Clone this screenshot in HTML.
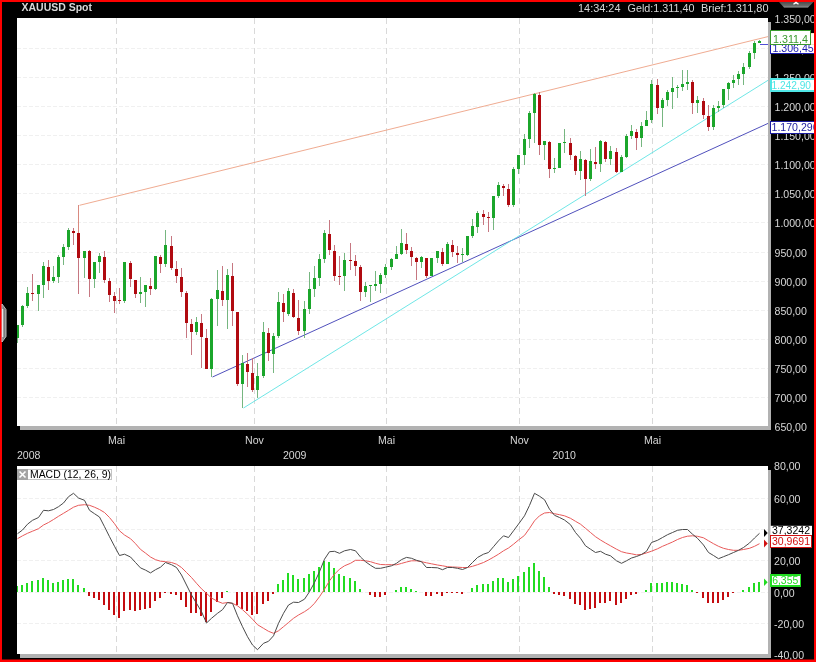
<!DOCTYPE html>
<html><head><meta charset="utf-8"><title>XAUUSD Spot</title>
<style>
html,body{margin:0;padding:0;background:#000;}
body{width:816px;height:662px;overflow:hidden;}
svg{display:block;}
text{font-family:"Liberation Sans",Arial,sans-serif;font-size:10.6px;}
.ax{fill:#d6d6d6;}
.b{font-weight:bold;}
</style></head><body>
<svg width="816" height="662" viewBox="0 0 816 662">
<rect x="0" y="0" width="816" height="662" fill="#fe0000"/>
<rect x="2" y="2" width="812" height="657.5" fill="#000"/>
<g shape-rendering="crispEdges">
<rect x="20" y="22" width="751" height="408" fill="#b2b2b2"/>
<rect x="17" y="18" width="751" height="408" fill="#fff"/>
<rect x="20" y="470" width="751" height="188" fill="#b2b2b2"/>
<rect x="17" y="466" width="751" height="188" fill="#fff"/>
</g>
<g stroke="#f0f0f0" stroke-width="1" stroke-dasharray="4 2" shape-rendering="crispEdges">
<line x1="17" y1="397.5" x2="768" y2="397.5"/>
<line x1="17" y1="368.5" x2="768" y2="368.5"/>
<line x1="17" y1="339.5" x2="768" y2="339.5"/>
<line x1="17" y1="310.5" x2="768" y2="310.5"/>
<line x1="17" y1="281.5" x2="768" y2="281.5"/>
<line x1="17" y1="252.5" x2="768" y2="252.5"/>
<line x1="17" y1="222.5" x2="768" y2="222.5"/>
<line x1="17" y1="193.5" x2="768" y2="193.5"/>
<line x1="17" y1="164.5" x2="768" y2="164.5"/>
<line x1="17" y1="135.5" x2="768" y2="135.5"/>
<line x1="17" y1="106.5" x2="768" y2="106.5"/>
<line x1="17" y1="77.5" x2="768" y2="77.5"/>
<line x1="17" y1="48.5" x2="768" y2="48.5"/>
<line x1="17" y1="498.5" x2="768" y2="498.5"/>
<line x1="17" y1="529.5" x2="768" y2="529.5"/>
<line x1="17" y1="560.5" x2="768" y2="560.5"/>
<line x1="17" y1="592.5" x2="768" y2="592.5"/>
<line x1="17" y1="623.5" x2="768" y2="623.5"/>
</g>
<g stroke="#d9d9d9" stroke-width="1" stroke-dasharray="6 4" shape-rendering="crispEdges">
<line x1="116.5" y1="18" x2="116.5" y2="426"/>
<line x1="116.5" y1="466" x2="116.5" y2="654"/>
<line x1="254.5" y1="18" x2="254.5" y2="426"/>
<line x1="254.5" y1="466" x2="254.5" y2="654"/>
<line x1="386.5" y1="18" x2="386.5" y2="426"/>
<line x1="386.5" y1="466" x2="386.5" y2="654"/>
<line x1="519.5" y1="18" x2="519.5" y2="426"/>
<line x1="519.5" y1="466" x2="519.5" y2="654"/>
<line x1="652.5" y1="18" x2="652.5" y2="426"/>
<line x1="652.5" y1="466" x2="652.5" y2="654"/>
</g>
<g fill="none" stroke-width="0.9">
<line x1="79.5" y1="205.3" x2="768" y2="36.6" stroke="#eda284"/>
<line x1="212.5" y1="377" x2="768" y2="123.4" stroke="#3c3cb4"/>
<line x1="243.5" y1="408" x2="768" y2="80.3" stroke="#5fe3e3"/>
<line x1="760" y1="44.5" x2="768" y2="44.5" stroke="#3c3cd0"/>
</g>
<g shape-rendering="crispEdges">
<rect x="17" y="325.0" width="1" height="18.0" fill="#76b680"/><rect x="22" y="304.5" width="1" height="22.5" fill="#76b680"/><rect x="27" y="286.7" width="1" height="21.6" fill="#76b680"/><rect x="32" y="274.0" width="1" height="27.0" fill="#c67781"/><rect x="38" y="284.7" width="1" height="26.3" fill="#76b680"/><rect x="43" y="261.7" width="1" height="35.8" fill="#76b680"/><rect x="48" y="260.3" width="1" height="29.2" fill="#c67781"/><rect x="53" y="266.0" width="1" height="17.3" fill="#76b680"/><rect x="58" y="255.0" width="1" height="27.5" fill="#76b680"/><rect x="63" y="244.0" width="1" height="21.3" fill="#76b680"/><rect x="68" y="228.3" width="1" height="21.7" fill="#76b680"/><rect x="73" y="228.3" width="1" height="16.4" fill="#c67781"/><rect x="78" y="205.3" width="1" height="27.7" fill="#d98a80"/><rect x="78" y="257.8" width="1" height="35.9" fill="#c67781"/><rect x="84" y="250.8" width="1" height="27.5" fill="#76b680"/><rect x="89" y="250.0" width="1" height="46.7" fill="#c67781"/><rect x="94" y="262.0" width="1" height="26.3" fill="#76b680"/><rect x="99" y="253.3" width="1" height="20.0" fill="#76b680"/><rect x="104" y="251.3" width="1" height="31.2" fill="#c67781"/><rect x="109" y="278.3" width="1" height="23.7" fill="#c67781"/><rect x="114" y="291.7" width="1" height="21.3" fill="#c67781"/><rect x="119" y="288.3" width="1" height="15.4" fill="#c67781"/><rect x="124" y="261.7" width="1" height="41.6" fill="#76b680"/><rect x="130" y="260.8" width="1" height="25.9" fill="#c67781"/><rect x="135" y="280.0" width="1" height="17.5" fill="#c67781"/><rect x="140" y="277.0" width="1" height="25.5" fill="#76b680"/><rect x="145" y="284.7" width="1" height="22.0" fill="#76b680"/><rect x="150" y="277.5" width="1" height="17.8" fill="#c67781"/><rect x="155" y="255.8" width="1" height="34.5" fill="#76b680"/><rect x="160" y="255.0" width="1" height="18.3" fill="#c67781"/><rect x="165" y="230.0" width="1" height="36.7" fill="#76b680"/><rect x="171" y="235.8" width="1" height="34.5" fill="#c67781"/><rect x="176" y="261.3" width="1" height="22.0" fill="#c67781"/><rect x="181" y="267.5" width="1" height="29.2" fill="#c67781"/><rect x="186" y="290.8" width="1" height="46.7" fill="#c67781"/><rect x="191" y="319.2" width="1" height="35.3" fill="#c67781"/><rect x="196" y="317.0" width="1" height="18.3" fill="#76b680"/><rect x="201" y="314.2" width="1" height="53.8" fill="#c67781"/><rect x="206" y="329.2" width="1" height="39.5" fill="#c67781"/><rect x="211" y="298.3" width="1" height="78.7" fill="#76b680"/><rect x="217" y="270.0" width="1" height="55.5" fill="#76b680"/><rect x="222" y="265.8" width="1" height="40.0" fill="#c67781"/><rect x="227" y="269.2" width="1" height="59.6" fill="#76b680"/><rect x="232" y="263.3" width="1" height="62.2" fill="#c67781"/><rect x="237" y="311.7" width="1" height="73.8" fill="#c67781"/><rect x="242" y="355.0" width="1" height="53.0" fill="#76b680"/><rect x="247" y="353.3" width="1" height="33.4" fill="#c67781"/><rect x="252" y="358.3" width="1" height="33.4" fill="#c67781"/><rect x="257" y="362.5" width="1" height="35.0" fill="#76b680"/><rect x="263" y="322.3" width="1" height="55.2" fill="#76b680"/><rect x="268" y="328.3" width="1" height="32.5" fill="#c67781"/><rect x="273" y="332.5" width="1" height="40.8" fill="#76b680"/><rect x="278" y="291.7" width="1" height="46.6" fill="#76b680"/><rect x="283" y="294.2" width="1" height="27.5" fill="#c67781"/><rect x="288" y="287.5" width="1" height="28.8" fill="#76b680"/><rect x="293" y="289.2" width="1" height="28.7" fill="#c67781"/><rect x="298" y="300.0" width="1" height="34.5" fill="#c67781"/><rect x="304" y="301.3" width="1" height="37.0" fill="#76b680"/><rect x="309" y="272.2" width="1" height="42.0" fill="#76b680"/><rect x="314" y="265.8" width="1" height="30.9" fill="#76b680"/><rect x="319" y="254.2" width="1" height="32.1" fill="#76b680"/><rect x="324" y="230.3" width="1" height="32.2" fill="#76b680"/><rect x="329" y="220.0" width="1" height="34.7" fill="#c67781"/><rect x="334" y="245.0" width="1" height="35.8" fill="#c67781"/><rect x="339" y="255.8" width="1" height="28.9" fill="#c67781"/><rect x="344" y="253.0" width="1" height="37.8" fill="#76b680"/><rect x="350" y="242.5" width="1" height="27.8" fill="#c67781"/><rect x="355" y="255.0" width="1" height="20.8" fill="#c67781"/><rect x="360" y="265.0" width="1" height="35.8" fill="#c67781"/><rect x="365" y="282.2" width="1" height="14.8" fill="#76b680"/><rect x="370" y="284.7" width="1" height="17.0" fill="#76b680"/><rect x="375" y="271.3" width="1" height="19.5" fill="#76b680"/><rect x="380" y="273.3" width="1" height="19.2" fill="#76b680"/><rect x="385" y="264.2" width="1" height="14.1" fill="#76b680"/><rect x="391" y="258.3" width="1" height="11.4" fill="#76b680"/><rect x="396" y="245.8" width="1" height="13.4" fill="#76b680"/><rect x="401" y="229.2" width="1" height="26.2" fill="#76b680"/><rect x="406" y="233.3" width="1" height="20.9" fill="#c67781"/><rect x="411" y="246.7" width="1" height="18.8" fill="#c67781"/><rect x="416" y="257.0" width="1" height="22.7" fill="#c67781"/><rect x="421" y="256.3" width="1" height="11.2" fill="#76b680"/><rect x="426" y="257.8" width="1" height="19.7" fill="#c67781"/><rect x="431" y="257.8" width="1" height="18.5" fill="#76b680"/><rect x="437" y="250.8" width="1" height="11.7" fill="#76b680"/><rect x="442" y="247.5" width="1" height="18.0" fill="#c67781"/><rect x="447" y="241.7" width="1" height="22.5" fill="#76b680"/><rect x="452" y="240.3" width="1" height="16.4" fill="#c67781"/><rect x="457" y="246.3" width="1" height="16.2" fill="#c67781"/><rect x="462" y="248.0" width="1" height="14.0" fill="#76b680"/><rect x="467" y="235.8" width="1" height="20.5" fill="#76b680"/><rect x="472" y="219.2" width="1" height="19.1" fill="#76b680"/><rect x="477" y="211.3" width="1" height="22.0" fill="#76b680"/><rect x="483" y="210.0" width="1" height="15.0" fill="#c67781"/><rect x="488" y="211.7" width="1" height="20.0" fill="#c67781"/><rect x="493" y="195.8" width="1" height="34.5" fill="#76b680"/><rect x="498" y="181.7" width="1" height="16.6" fill="#76b680"/><rect x="503" y="184.2" width="1" height="12.1" fill="#c67781"/><rect x="508" y="184.2" width="1" height="22.5" fill="#c67781"/><rect x="513" y="166.7" width="1" height="40.0" fill="#76b680"/><rect x="518" y="154.7" width="1" height="19.5" fill="#76b680"/><rect x="524" y="134.2" width="1" height="30.8" fill="#76b680"/><rect x="529" y="110.8" width="1" height="36.7" fill="#76b680"/><rect x="534" y="93.3" width="1" height="50.0" fill="#76b680"/><rect x="539" y="92.0" width="1" height="62.7" fill="#c67781"/><rect x="544" y="140.8" width="1" height="18.9" fill="#76b680"/><rect x="549" y="141.3" width="1" height="37.0" fill="#c67781"/><rect x="554" y="157.5" width="1" height="15.0" fill="#76b680"/><rect x="559" y="142.8" width="1" height="25.0" fill="#76b680"/><rect x="564" y="129.2" width="1" height="24.1" fill="#76b680"/><rect x="570" y="138.0" width="1" height="21.5" fill="#c67781"/><rect x="575" y="155.3" width="1" height="19.2" fill="#c67781"/><rect x="580" y="150.5" width="1" height="29.0" fill="#76b680"/><rect x="585" y="159.2" width="1" height="37.1" fill="#c67781"/><rect x="590" y="149.2" width="1" height="31.4" fill="#76b680"/><rect x="595" y="146.8" width="1" height="22.4" fill="#c67781"/><rect x="600" y="139.5" width="1" height="32.2" fill="#76b680"/><rect x="605" y="141.3" width="1" height="20.4" fill="#c67781"/><rect x="610" y="146.3" width="1" height="18.7" fill="#76b680"/><rect x="616" y="148.3" width="1" height="24.2" fill="#c67781"/><rect x="621" y="155.0" width="1" height="17.0" fill="#76b680"/><rect x="626" y="134.2" width="1" height="23.3" fill="#76b680"/><rect x="631" y="125.0" width="1" height="14.2" fill="#76b680"/><rect x="636" y="129.2" width="1" height="20.5" fill="#c67781"/><rect x="641" y="122.3" width="1" height="24.4" fill="#76b680"/><rect x="646" y="111.3" width="1" height="15.0" fill="#76b680"/><rect x="651" y="79.5" width="1" height="43.2" fill="#76b680"/><rect x="657" y="78.7" width="1" height="35.0" fill="#c67781"/><rect x="662" y="97.8" width="1" height="28.9" fill="#76b680"/><rect x="667" y="90.3" width="1" height="15.2" fill="#76b680"/><rect x="672" y="77.0" width="1" height="31.5" fill="#76b680"/><rect x="677" y="85.3" width="1" height="12.5" fill="#76b680"/><rect x="682" y="69.5" width="1" height="21.7" fill="#76b680"/><rect x="687" y="70.3" width="1" height="20.0" fill="#76b680"/><rect x="692" y="80.3" width="1" height="34.0" fill="#c67781"/><rect x="697" y="96.2" width="1" height="17.1" fill="#76b680"/><rect x="703" y="97.8" width="1" height="21.5" fill="#c67781"/><rect x="708" y="105.2" width="1" height="25.3" fill="#c67781"/><rect x="713" y="105.2" width="1" height="25.0" fill="#76b680"/><rect x="718" y="101.2" width="1" height="10.8" fill="#76b680"/><rect x="723" y="88.7" width="1" height="19.1" fill="#76b680"/><rect x="728" y="82.3" width="1" height="18.0" fill="#76b680"/><rect x="733" y="75.0" width="1" height="12.8" fill="#76b680"/><rect x="738" y="70.7" width="1" height="13.8" fill="#76b680"/><rect x="743" y="63.3" width="1" height="22.0" fill="#76b680"/><rect x="749" y="51.2" width="1" height="17.5" fill="#76b680"/><rect x="754" y="41.2" width="1" height="17.5" fill="#76b680"/><rect x="759" y="39.5" width="1" height="3.3" fill="#76b680"/>
<rect x="17" y="325.0" width="2" height="13.0" fill="#1ba62b"/><rect x="21" y="306.0" width="3" height="19.0" fill="#1ba62b"/><rect x="26" y="293.0" width="3" height="12.8" fill="#1ba62b"/><rect x="31" y="293.0" width="3" height="1.2" fill="#b00a10"/><rect x="37" y="285.0" width="3" height="8.7" fill="#1ba62b"/><rect x="42" y="266.0" width="3" height="18.7" fill="#1ba62b"/><rect x="47" y="267.0" width="3" height="13.8" fill="#b00a10"/><rect x="52" y="277.0" width="3" height="3.8" fill="#1ba62b"/><rect x="57" y="257.0" width="3" height="19.7" fill="#1ba62b"/><rect x="62" y="247.0" width="3" height="9.7" fill="#1ba62b"/><rect x="67" y="230.0" width="3" height="16.7" fill="#1ba62b"/><rect x="72" y="231.0" width="3" height="1.5" fill="#b00a10"/><rect x="77" y="233.0" width="3" height="24.8" fill="#b00a10"/><rect x="83" y="251.0" width="3" height="6.8" fill="#1ba62b"/><rect x="88" y="251.0" width="3" height="27.7" fill="#b00a10"/><rect x="93" y="262.0" width="3" height="16.7" fill="#1ba62b"/><rect x="98" y="256.0" width="3" height="5.7" fill="#1ba62b"/><rect x="103" y="257.0" width="3" height="22.7" fill="#b00a10"/><rect x="108" y="280.8" width="3" height="14.2" fill="#b00a10"/><rect x="113" y="296.0" width="3" height="4.8" fill="#b00a10"/><rect x="118" y="300.0" width="3" height="1.2" fill="#b00a10"/><rect x="123" y="262.0" width="3" height="38.8" fill="#1ba62b"/><rect x="129" y="262.8" width="3" height="15.9" fill="#b00a10"/><rect x="134" y="280.0" width="3" height="13.8" fill="#b00a10"/><rect x="139" y="291.7" width="3" height="2.1" fill="#1ba62b"/><rect x="144" y="285.0" width="3" height="6.7" fill="#1ba62b"/><rect x="149" y="286.2" width="3" height="2.5" fill="#b00a10"/><rect x="154" y="256.2" width="3" height="32.5" fill="#1ba62b"/><rect x="159" y="257.0" width="3" height="6.7" fill="#b00a10"/><rect x="164" y="245.0" width="3" height="18.7" fill="#1ba62b"/><rect x="170" y="245.8" width="3" height="22.0" fill="#b00a10"/><rect x="175" y="268.8" width="3" height="7.0" fill="#b00a10"/><rect x="180" y="277.0" width="3" height="14.7" fill="#b00a10"/><rect x="185" y="292.8" width="3" height="29.8" fill="#b00a10"/><rect x="190" y="323.8" width="3" height="7.9" fill="#b00a10"/><rect x="195" y="321.8" width="3" height="9.9" fill="#1ba62b"/><rect x="200" y="322.8" width="3" height="13.9" fill="#b00a10"/><rect x="205" y="337.8" width="3" height="30.9" fill="#b00a10"/><rect x="210" y="298.8" width="3" height="69.9" fill="#1ba62b"/><rect x="216" y="290.0" width="3" height="8.8" fill="#1ba62b"/><rect x="221" y="290.8" width="3" height="8.9" fill="#b00a10"/><rect x="226" y="274.7" width="3" height="25.0" fill="#1ba62b"/><rect x="231" y="275.8" width="3" height="35.0" fill="#b00a10"/><rect x="236" y="312.0" width="3" height="71.7" fill="#b00a10"/><rect x="241" y="362.8" width="3" height="20.9" fill="#1ba62b"/><rect x="246" y="364.2" width="3" height="7.5" fill="#b00a10"/><rect x="251" y="372.8" width="3" height="17.2" fill="#b00a10"/><rect x="256" y="376.2" width="3" height="13.8" fill="#1ba62b"/><rect x="262" y="332.0" width="3" height="43.8" fill="#1ba62b"/><rect x="267" y="333.0" width="3" height="19.8" fill="#b00a10"/><rect x="272" y="335.8" width="3" height="17.9" fill="#1ba62b"/><rect x="277" y="302.0" width="3" height="33.8" fill="#1ba62b"/><rect x="282" y="303.0" width="3" height="8.7" fill="#b00a10"/><rect x="287" y="291.2" width="3" height="22.5" fill="#1ba62b"/><rect x="292" y="292.8" width="3" height="23.9" fill="#b00a10"/><rect x="297" y="318.0" width="3" height="12.8" fill="#b00a10"/><rect x="303" y="309.2" width="3" height="21.6" fill="#1ba62b"/><rect x="308" y="289.2" width="3" height="19.6" fill="#1ba62b"/><rect x="313" y="278.0" width="3" height="10.8" fill="#1ba62b"/><rect x="318" y="259.2" width="3" height="18.6" fill="#1ba62b"/><rect x="323" y="232.8" width="3" height="26.0" fill="#1ba62b"/><rect x="328" y="234.2" width="3" height="15.8" fill="#b00a10"/><rect x="333" y="251.2" width="3" height="24.6" fill="#b00a10"/><rect x="338" y="275.8" width="3" height="1.2" fill="#b00a10"/><rect x="343" y="260.0" width="3" height="15.8" fill="#1ba62b"/><rect x="349" y="259.7" width="3" height="1.2" fill="#b00a10"/><rect x="354" y="260.8" width="3" height="5.0" fill="#b00a10"/><rect x="359" y="267.0" width="3" height="25.0" fill="#b00a10"/><rect x="364" y="286.2" width="3" height="5.8" fill="#1ba62b"/><rect x="369" y="285.0" width="3" height="1.2" fill="#1ba62b"/><rect x="374" y="283.8" width="3" height="2.0" fill="#1ba62b"/><rect x="379" y="275.0" width="3" height="8.8" fill="#1ba62b"/><rect x="384" y="267.0" width="3" height="7.7" fill="#1ba62b"/><rect x="390" y="259.2" width="3" height="7.8" fill="#1ba62b"/><rect x="395" y="253.8" width="3" height="4.8" fill="#1ba62b"/><rect x="400" y="243.0" width="3" height="10.7" fill="#1ba62b"/><rect x="405" y="244.2" width="3" height="5.6" fill="#b00a10"/><rect x="410" y="251.2" width="3" height="5.5" fill="#b00a10"/><rect x="415" y="258.0" width="3" height="3.7" fill="#b00a10"/><rect x="420" y="257.0" width="3" height="4.7" fill="#1ba62b"/><rect x="425" y="258.0" width="3" height="17.8" fill="#b00a10"/><rect x="430" y="258.0" width="3" height="17.8" fill="#1ba62b"/><rect x="436" y="251.3" width="3" height="6.5" fill="#1ba62b"/><rect x="441" y="252.0" width="3" height="11.7" fill="#b00a10"/><rect x="446" y="244.2" width="3" height="19.5" fill="#1ba62b"/><rect x="451" y="245.0" width="3" height="6.7" fill="#b00a10"/><rect x="456" y="253.0" width="3" height="1.7" fill="#b00a10"/><rect x="461" y="253.8" width="3" height="1.2" fill="#1ba62b"/><rect x="466" y="236.2" width="3" height="18.5" fill="#1ba62b"/><rect x="471" y="226.2" width="3" height="9.6" fill="#1ba62b"/><rect x="476" y="213.0" width="3" height="13.7" fill="#1ba62b"/><rect x="482" y="214.2" width="3" height="2.5" fill="#b00a10"/><rect x="487" y="216.7" width="3" height="1.2" fill="#b00a10"/><rect x="492" y="196.2" width="3" height="21.3" fill="#1ba62b"/><rect x="497" y="185.0" width="3" height="10.8" fill="#1ba62b"/><rect x="502" y="185.8" width="3" height="2.0" fill="#b00a10"/><rect x="507" y="189.2" width="3" height="15.5" fill="#b00a10"/><rect x="512" y="168.8" width="3" height="35.9" fill="#1ba62b"/><rect x="517" y="155.0" width="3" height="13.8" fill="#1ba62b"/><rect x="523" y="138.8" width="3" height="15.9" fill="#1ba62b"/><rect x="528" y="112.8" width="3" height="25.9" fill="#1ba62b"/><rect x="533" y="93.8" width="3" height="18.7" fill="#1ba62b"/><rect x="538" y="95.0" width="3" height="49.5" fill="#b00a10"/><rect x="543" y="141.2" width="3" height="3.5" fill="#1ba62b"/><rect x="548" y="142.0" width="3" height="26.7" fill="#b00a10"/><rect x="553" y="167.8" width="3" height="1.2" fill="#1ba62b"/><rect x="558" y="143.0" width="3" height="24.8" fill="#1ba62b"/><rect x="563" y="142.0" width="3" height="1.2" fill="#1ba62b"/><rect x="569" y="143.0" width="3" height="11.7" fill="#b00a10"/><rect x="574" y="155.8" width="3" height="15.0" fill="#b00a10"/><rect x="579" y="159.2" width="3" height="11.6" fill="#1ba62b"/><rect x="584" y="160.0" width="3" height="18.8" fill="#b00a10"/><rect x="589" y="161.2" width="3" height="17.6" fill="#1ba62b"/><rect x="594" y="162.0" width="3" height="1.8" fill="#b00a10"/><rect x="599" y="141.2" width="3" height="22.6" fill="#1ba62b"/><rect x="604" y="142.0" width="3" height="16.7" fill="#b00a10"/><rect x="609" y="150.8" width="3" height="7.9" fill="#1ba62b"/><rect x="615" y="152.0" width="3" height="20.0" fill="#b00a10"/><rect x="620" y="157.0" width="3" height="15.0" fill="#1ba62b"/><rect x="625" y="135.8" width="3" height="21.2" fill="#1ba62b"/><rect x="630" y="130.8" width="3" height="5.0" fill="#1ba62b"/><rect x="635" y="132.0" width="3" height="5.8" fill="#b00a10"/><rect x="640" y="125.8" width="3" height="12.0" fill="#1ba62b"/><rect x="645" y="120.2" width="3" height="5.6" fill="#1ba62b"/><rect x="650" y="84.0" width="3" height="36.0" fill="#1ba62b"/><rect x="656" y="85.0" width="3" height="22.8" fill="#b00a10"/><rect x="661" y="100.0" width="3" height="7.8" fill="#1ba62b"/><rect x="666" y="92.0" width="3" height="8.0" fill="#1ba62b"/><rect x="671" y="88.2" width="3" height="3.8" fill="#1ba62b"/><rect x="676" y="87.0" width="3" height="1.2" fill="#1ba62b"/><rect x="681" y="84.0" width="3" height="3.0" fill="#1ba62b"/><rect x="686" y="82.0" width="3" height="2.0" fill="#1ba62b"/><rect x="691" y="82.0" width="3" height="20.7" fill="#b00a10"/><rect x="696" y="100.0" width="3" height="2.7" fill="#1ba62b"/><rect x="702" y="101.0" width="3" height="13.9" fill="#b00a10"/><rect x="707" y="116.2" width="3" height="10.7" fill="#b00a10"/><rect x="712" y="108.0" width="3" height="18.9" fill="#1ba62b"/><rect x="717" y="106.2" width="3" height="1.6" fill="#1ba62b"/><rect x="722" y="89.0" width="3" height="15.8" fill="#1ba62b"/><rect x="727" y="83.2" width="3" height="5.8" fill="#1ba62b"/><rect x="732" y="80.0" width="3" height="3.2" fill="#1ba62b"/><rect x="737" y="74.0" width="3" height="5.0" fill="#1ba62b"/><rect x="742" y="67.0" width="3" height="6.7" fill="#1ba62b"/><rect x="748" y="53.2" width="3" height="13.8" fill="#1ba62b"/><rect x="753" y="43.2" width="3" height="9.6" fill="#1ba62b"/><rect x="758" y="41.2" width="3" height="1.3" fill="#1ba62b"/>
</g>
<g shape-rendering="crispEdges">
<rect x="17" y="586.2" width="1" height="5.8" fill="#22dc22"/>
<rect x="21" y="584.5" width="2" height="7.5" fill="#22dc22"/>
<rect x="26" y="582.5" width="2" height="9.5" fill="#22dc22"/>
<rect x="31" y="581.2" width="2" height="10.8" fill="#22dc22"/>
<rect x="37" y="580.3" width="2" height="11.7" fill="#22dc22"/>
<rect x="42" y="578.3" width="2" height="13.7" fill="#22dc22"/>
<rect x="47" y="580.3" width="2" height="11.7" fill="#22dc22"/>
<rect x="52" y="582.5" width="2" height="9.5" fill="#22dc22"/>
<rect x="57" y="581.7" width="2" height="10.3" fill="#22dc22"/>
<rect x="62" y="580.3" width="2" height="11.7" fill="#22dc22"/>
<rect x="67" y="578.7" width="2" height="13.3" fill="#22dc22"/>
<rect x="72" y="578.7" width="2" height="13.3" fill="#22dc22"/>
<rect x="77" y="585.3" width="2" height="6.7" fill="#22dc22"/>
<rect x="83" y="588.3" width="2" height="3.7" fill="#22dc22"/>
<rect x="88" y="592" width="2" height="3.5" fill="#c40c10"/>
<rect x="93" y="592" width="2" height="6.0" fill="#c40c10"/>
<rect x="98" y="592" width="2" height="7.5" fill="#c40c10"/>
<rect x="103" y="592" width="2" height="12.5" fill="#c40c10"/>
<rect x="108" y="592" width="2" height="18.0" fill="#c40c10"/>
<rect x="113" y="592" width="2" height="23.0" fill="#c40c10"/>
<rect x="118" y="592" width="2" height="25.5" fill="#c40c10"/>
<rect x="123" y="592" width="2" height="18.5" fill="#c40c10"/>
<rect x="129" y="592" width="2" height="18.0" fill="#c40c10"/>
<rect x="134" y="592" width="2" height="18.5" fill="#c40c10"/>
<rect x="139" y="592" width="2" height="18.2" fill="#c40c10"/>
<rect x="144" y="592" width="2" height="16.7" fill="#c40c10"/>
<rect x="149" y="592" width="2" height="15.8" fill="#c40c10"/>
<rect x="154" y="592" width="2" height="9.0" fill="#c40c10"/>
<rect x="159" y="592" width="2" height="5.8" fill="#c40c10"/>
<rect x="164" y="592" width="2" height="0.8" fill="#c40c10"/>
<rect x="170" y="592" width="2" height="1.5" fill="#c40c10"/>
<rect x="175" y="592" width="2" height="3.3" fill="#c40c10"/>
<rect x="180" y="592" width="2" height="7.5" fill="#c40c10"/>
<rect x="185" y="592" width="2" height="14.8" fill="#c40c10"/>
<rect x="190" y="592" width="2" height="20.8" fill="#c40c10"/>
<rect x="195" y="592" width="2" height="21.2" fill="#c40c10"/>
<rect x="200" y="592" width="2" height="23.7" fill="#c40c10"/>
<rect x="205" y="592" width="2" height="30.3" fill="#c40c10"/>
<rect x="210" y="592" width="2" height="19.5" fill="#c40c10"/>
<rect x="216" y="592" width="2" height="10.3" fill="#c40c10"/>
<rect x="221" y="592" width="2" height="5.8" fill="#c40c10"/>
<rect x="226" y="591.2" width="2" height="0.8" fill="#22dc22"/>
<rect x="236" y="592" width="2" height="12.5" fill="#c40c10"/>
<rect x="241" y="592" width="2" height="17.0" fill="#c40c10"/>
<rect x="246" y="592" width="2" height="19.2" fill="#c40c10"/>
<rect x="251" y="592" width="2" height="23.2" fill="#c40c10"/>
<rect x="256" y="592" width="2" height="21.5" fill="#c40c10"/>
<rect x="262" y="592" width="2" height="11.5" fill="#c40c10"/>
<rect x="267" y="592" width="2" height="8.7" fill="#c40c10"/>
<rect x="272" y="592" width="2" height="1.5" fill="#c40c10"/>
<rect x="277" y="584.0" width="2" height="8.0" fill="#22dc22"/>
<rect x="282" y="579.8" width="2" height="12.2" fill="#22dc22"/>
<rect x="287" y="572.8" width="2" height="19.2" fill="#22dc22"/>
<rect x="292" y="574.8" width="2" height="17.2" fill="#22dc22"/>
<rect x="297" y="579.0" width="2" height="13.0" fill="#22dc22"/>
<rect x="303" y="577.8" width="2" height="14.2" fill="#22dc22"/>
<rect x="308" y="574.0" width="2" height="18.0" fill="#22dc22"/>
<rect x="313" y="571.2" width="2" height="20.8" fill="#22dc22"/>
<rect x="318" y="566.8" width="2" height="25.2" fill="#22dc22"/>
<rect x="323" y="561.2" width="2" height="30.8" fill="#22dc22"/>
<rect x="328" y="562.0" width="2" height="30.0" fill="#22dc22"/>
<rect x="333" y="568.2" width="2" height="23.8" fill="#22dc22"/>
<rect x="338" y="574.0" width="2" height="18.0" fill="#22dc22"/>
<rect x="343" y="576.0" width="2" height="16.0" fill="#22dc22"/>
<rect x="349" y="577.8" width="2" height="14.2" fill="#22dc22"/>
<rect x="354" y="580.7" width="2" height="11.3" fill="#22dc22"/>
<rect x="359" y="588.5" width="2" height="3.5" fill="#22dc22"/>
<rect x="364" y="592" width="2" height="0.4" fill="#c40c10"/>
<rect x="369" y="592" width="2" height="3.3" fill="#c40c10"/>
<rect x="374" y="592" width="2" height="4.5" fill="#c40c10"/>
<rect x="379" y="592" width="2" height="4.5" fill="#c40c10"/>
<rect x="384" y="592" width="2" height="2.8" fill="#c40c10"/>
<rect x="395" y="589.8" width="2" height="2.2" fill="#22dc22"/>
<rect x="400" y="587.2" width="2" height="4.8" fill="#22dc22"/>
<rect x="405" y="587.2" width="2" height="4.8" fill="#22dc22"/>
<rect x="410" y="589.2" width="2" height="2.8" fill="#22dc22"/>
<rect x="415" y="591.0" width="2" height="1.0" fill="#22dc22"/>
<rect x="425" y="592" width="2" height="3.5" fill="#c40c10"/>
<rect x="430" y="592" width="2" height="3.5" fill="#c40c10"/>
<rect x="436" y="592" width="2" height="1.7" fill="#c40c10"/>
<rect x="441" y="592" width="2" height="3.5" fill="#c40c10"/>
<rect x="446" y="592" width="2" height="1.0" fill="#c40c10"/>
<rect x="451" y="592" width="2" height="0.7" fill="#c40c10"/>
<rect x="456" y="592" width="2" height="1.3" fill="#c40c10"/>
<rect x="461" y="592" width="2" height="1.7" fill="#c40c10"/>
<rect x="471" y="588.3" width="2" height="3.7" fill="#22dc22"/>
<rect x="476" y="585.3" width="2" height="6.7" fill="#22dc22"/>
<rect x="482" y="584.2" width="2" height="7.8" fill="#22dc22"/>
<rect x="487" y="584.2" width="2" height="7.8" fill="#22dc22"/>
<rect x="492" y="581.2" width="2" height="10.8" fill="#22dc22"/>
<rect x="497" y="578.3" width="2" height="13.7" fill="#22dc22"/>
<rect x="502" y="578.3" width="2" height="13.7" fill="#22dc22"/>
<rect x="507" y="582.2" width="2" height="9.8" fill="#22dc22"/>
<rect x="512" y="579.2" width="2" height="12.8" fill="#22dc22"/>
<rect x="517" y="576.3" width="2" height="15.7" fill="#22dc22"/>
<rect x="523" y="572.1" width="2" height="19.9" fill="#22dc22"/>
<rect x="528" y="567.0" width="2" height="25.0" fill="#22dc22"/>
<rect x="533" y="563.3" width="2" height="28.7" fill="#22dc22"/>
<rect x="538" y="571.2" width="2" height="20.8" fill="#22dc22"/>
<rect x="543" y="577.0" width="2" height="15.0" fill="#22dc22"/>
<rect x="548" y="587.2" width="2" height="4.8" fill="#22dc22"/>
<rect x="553" y="592" width="2" height="1.8" fill="#c40c10"/>
<rect x="558" y="592" width="2" height="2.7" fill="#c40c10"/>
<rect x="563" y="592" width="2" height="3.8" fill="#c40c10"/>
<rect x="569" y="592" width="2" height="6.7" fill="#c40c10"/>
<rect x="574" y="592" width="2" height="11.8" fill="#c40c10"/>
<rect x="579" y="592" width="2" height="12.7" fill="#c40c10"/>
<rect x="584" y="592" width="2" height="17.7" fill="#c40c10"/>
<rect x="589" y="592" width="2" height="16.7" fill="#c40c10"/>
<rect x="594" y="592" width="2" height="15.5" fill="#c40c10"/>
<rect x="599" y="592" width="2" height="11.3" fill="#c40c10"/>
<rect x="604" y="592" width="2" height="11.3" fill="#c40c10"/>
<rect x="609" y="592" width="2" height="9.3" fill="#c40c10"/>
<rect x="615" y="592" width="2" height="12.7" fill="#c40c10"/>
<rect x="620" y="592" width="2" height="11.3" fill="#c40c10"/>
<rect x="625" y="592" width="2" height="6.7" fill="#c40c10"/>
<rect x="630" y="592" width="2" height="2.7" fill="#c40c10"/>
<rect x="635" y="592" width="2" height="1.7" fill="#c40c10"/>
<rect x="645" y="590.0" width="2" height="2.0" fill="#22dc22"/>
<rect x="650" y="582.5" width="2" height="9.5" fill="#22dc22"/>
<rect x="656" y="582.8" width="2" height="9.2" fill="#22dc22"/>
<rect x="661" y="582.8" width="2" height="9.2" fill="#22dc22"/>
<rect x="666" y="582.2" width="2" height="9.8" fill="#22dc22"/>
<rect x="671" y="582.2" width="2" height="9.8" fill="#22dc22"/>
<rect x="676" y="583.0" width="2" height="9.0" fill="#22dc22"/>
<rect x="681" y="584.2" width="2" height="7.8" fill="#22dc22"/>
<rect x="686" y="585.0" width="2" height="7.0" fill="#22dc22"/>
<rect x="691" y="590.0" width="2" height="2.0" fill="#22dc22"/>
<rect x="696" y="592" width="2" height="0.8" fill="#c40c10"/>
<rect x="702" y="592" width="2" height="5.5" fill="#c40c10"/>
<rect x="707" y="592" width="2" height="11.3" fill="#c40c10"/>
<rect x="712" y="592" width="2" height="11.3" fill="#c40c10"/>
<rect x="717" y="592" width="2" height="10.5" fill="#c40c10"/>
<rect x="722" y="592" width="2" height="7.7" fill="#c40c10"/>
<rect x="727" y="592" width="2" height="4.7" fill="#c40c10"/>
<rect x="732" y="592" width="2" height="1.3" fill="#c40c10"/>
<rect x="742" y="590.0" width="2" height="2.0" fill="#22dc22"/>
<rect x="748" y="586.7" width="2" height="5.3" fill="#22dc22"/>
<rect x="753" y="583.3" width="2" height="8.7" fill="#22dc22"/>
<rect x="758" y="582.0" width="2" height="10.0" fill="#22dc22"/>
</g>
<polyline points="17.5,538.7 22.5,535.8 27.5,533.3 32.5,531.2 38.5,528.7 43.5,525.0 48.5,522.5 53.5,519.5 58.5,516.3 63.5,513.3 68.5,510.3 73.5,507.2 78.5,505.3 84.5,504.7 89.5,505.3 94.5,507.2 99.5,509.5 104.5,512.5 109.5,517.5 114.5,523.7 119.5,530.8 124.5,535.0 130.5,538.7 135.5,543.7 140.5,549.4 145.5,553.1 150.5,557.0 155.5,559.7 160.5,561.2 165.5,561.7 171.5,562.5 176.5,564.2 181.5,567.5 186.5,572.5 191.5,577.5 196.5,583.3 201.5,588.8 206.5,593.3 211.5,598.0 217.5,601.3 222.5,603.3 227.5,602.5 232.5,603.3 237.5,605.8 242.5,609.7 247.5,614.2 252.5,619.2 257.5,624.7 263.5,628.3 268.5,631.3 273.5,633.3 278.5,630.8 283.5,626.7 288.5,622.5 293.5,618.3 298.5,615.0 304.5,611.7 309.5,608.3 314.5,603.3 319.5,596.7 324.5,589.2 329.5,580.8 334.5,574.2 339.5,569.2 344.5,565.8 350.5,563.3 355.5,560.3 360.5,560.3 365.5,560.8 370.5,561.7 375.5,563.3 380.5,564.5 385.5,564.7 391.5,564.7 396.5,564.8 401.5,563.4 406.5,562.0 411.5,560.8 416.5,560.8 421.5,561.7 426.5,562.8 431.5,563.8 437.5,565.0 442.5,565.8 447.5,566.7 452.5,567.0 457.5,567.2 462.5,567.5 467.5,567.5 472.5,566.3 477.5,564.7 483.5,562.5 488.5,560.0 493.5,557.2 498.5,554.2 503.5,550.8 508.5,548.0 513.5,544.2 518.5,540.0 524.5,535.4 529.5,528.4 534.5,520.8 539.5,515.8 544.5,513.0 549.5,512.5 554.5,513.7 559.5,514.7 564.5,515.8 570.5,518.3 575.5,521.3 580.5,524.2 585.5,528.3 590.5,532.5 595.5,536.7 600.5,540.0 605.5,543.0 610.5,545.8 616.5,549.2 621.5,551.7 626.5,553.0 631.5,553.8 636.5,554.9 641.5,554.4 646.5,552.9 651.5,551.2 657.5,548.8 662.5,546.3 667.5,544.2 672.5,542.0 677.5,539.5 682.5,537.5 687.5,536.2 692.5,535.8 697.5,536.3 703.5,537.8 708.5,540.8 713.5,543.7 718.5,546.3 723.5,548.3 728.5,549.5 733.5,550.3 738.5,550.3 743.5,549.5 749.5,548.3 754.5,546.3 759.5,543.7" fill="none" stroke="#e85a5a" stroke-width="1" stroke-linejoin="round"/>
<polyline points="17.5,533.7 22.5,530.0 27.5,524.2 32.5,520.3 38.5,517.5 43.5,510.3 48.5,510.8 53.5,509.5 58.5,506.7 63.5,503.0 68.5,496.7 73.5,493.3 78.5,498.0 84.5,500.3 89.5,510.3 94.5,513.7 99.5,517.0 104.5,526.7 109.5,536.7 114.5,546.3 119.5,555.5 124.5,554.2 130.5,557.0 135.5,562.5 140.5,567.9 145.5,570.1 150.5,572.9 155.5,569.7 160.5,567.2 165.5,562.5 171.5,564.7 176.5,567.5 181.5,575.0 186.5,585.0 191.5,595.0 196.5,603.3 201.5,611.7 206.5,623.0 211.5,618.3 217.5,613.3 222.5,609.7 227.5,602.5 232.5,603.3 237.5,615.8 242.5,626.7 247.5,636.7 252.5,645.0 257.5,649.7 263.5,643.3 268.5,641.3 273.5,635.8 278.5,623.3 283.5,613.3 288.5,605.0 293.5,602.2 298.5,602.5 304.5,599.2 309.5,591.7 314.5,582.5 319.5,571.7 324.5,559.2 329.5,551.7 334.5,551.3 339.5,553.3 344.5,550.8 350.5,549.5 355.5,550.8 360.5,557.0 365.5,561.7 370.5,565.3 375.5,568.3 380.5,568.3 385.5,567.2 391.5,565.8 396.5,563.3 401.5,559.6 406.5,557.4 411.5,558.3 416.5,560.3 421.5,561.7 426.5,567.5 431.5,567.5 437.5,567.8 442.5,569.7 447.5,567.5 452.5,567.5 457.5,568.3 462.5,569.5 467.5,567.5 472.5,562.5 477.5,557.5 483.5,554.2 488.5,552.5 493.5,546.7 498.5,540.8 503.5,535.8 508.5,537.5 513.5,530.8 518.5,524.1 524.5,515.8 529.5,505.4 534.5,493.3 539.5,496.2 544.5,499.7 549.5,509.2 554.5,515.3 559.5,517.5 564.5,520.0 570.5,524.7 575.5,532.5 580.5,538.3 585.5,545.8 590.5,549.2 595.5,552.5 600.5,551.3 605.5,554.2 610.5,555.8 616.5,560.8 621.5,563.3 626.5,560.8 631.5,558.0 636.5,556.5 641.5,554.5 646.5,551.3 651.5,542.5 657.5,540.3 662.5,537.5 667.5,534.7 672.5,532.5 677.5,530.3 682.5,529.5 687.5,529.5 692.5,534.2 697.5,538.3 703.5,545.0 708.5,552.5 713.5,555.5 718.5,558.7 723.5,556.7 728.5,554.7 733.5,552.5 738.5,550.3 743.5,547.5 749.5,543.0 754.5,538.0 759.5,533.3" fill="none" stroke="#4a4a4a" stroke-width="1" stroke-linejoin="round"/>
<path d="M764 529 L767.7 533 L764 537 Z" fill="#000"/>
<path d="M764 539.5 L767.7 543.5 L764 547.5 Z" fill="#d01010"/>
<path d="M764 578.5 L767.7 582.3 L764 586 Z" fill="#22dc22"/>
<g shape-rendering="crispEdges"><rect x="17.5" y="469.5" width="94" height="10" fill="#fff" stroke="#c4c4c4"/><rect x="17" y="469" width="11" height="11" fill="#a4a4a4"/></g>
<path d="M19.5 471.5 L25.5 477.5 M25.5 471.5 L19.5 477.5" stroke="#fff" stroke-width="1.6" fill="none"/>
<text x="30" y="478" fill="#000" textLength="81" lengthAdjust="spacingAndGlyphs">MACD (12, 26, 9)</text>
<text class="b" x="21.5" y="11.3" fill="#d8d8d8" textLength="70.5" lengthAdjust="spacingAndGlyphs">XAUUSD Spot</text>
<text class="ax" x="578" y="12" textLength="42.5" lengthAdjust="spacingAndGlyphs">14:34:24</text>
<text class="ax" x="627.5" y="12" textLength="67" lengthAdjust="spacingAndGlyphs">Geld:1.311,40</text>
<text class="ax" x="701" y="12" textLength="67.5" lengthAdjust="spacingAndGlyphs">Brief:1.311,80</text>
<defs><linearGradient id="bg" x1="0" y1="0" x2="0" y2="1"><stop offset="0" stop-color="#4e4e4e"/><stop offset="0.75" stop-color="#6c6e6d"/><stop offset="1" stop-color="#a4a8a6"/></linearGradient><clipPath id="clipR"><rect x="768" y="2" width="46" height="658"/></clipPath></defs>
<path d="M779 2 L813.5 2 L808 7.5 L784 7.5 Z" fill="url(#bg)"/>
<path d="M793.5 4.2 L796 2.4 L798.5 4.2" stroke="#fff" stroke-width="1.3" fill="none"/>
<path d="M2 304 L6 309.5 L6 336.5 L2 342 Z" fill="#7c7c7c" stroke="#c8c8c8" stroke-width="0.9"/>
<rect x="2" y="309" width="1.3" height="28" fill="#e8e8e8"/>
<text class="ax" x="116.5" y="444" text-anchor="middle">Mai</text>
<text class="ax" x="254.5" y="444" text-anchor="middle">Nov</text>
<text class="ax" x="386.5" y="444" text-anchor="middle">Mai</text>
<text class="ax" x="519.5" y="444" text-anchor="middle">Nov</text>
<text class="ax" x="652.5" y="444" text-anchor="middle">Mai</text>
<text class="ax" x="17" y="459" textLength="23.5" lengthAdjust="spacingAndGlyphs">2008</text>
<text class="ax" x="283" y="459" textLength="23.5" lengthAdjust="spacingAndGlyphs">2009</text>
<text class="ax" x="552.5" y="459" textLength="23.5" lengthAdjust="spacingAndGlyphs">2010</text>
<g clip-path="url(#clipR)">
<text class="ax" x="774.5" y="430.8">650,00</text>
<text class="ax" x="774.5" y="401.8">700,00</text>
<text class="ax" x="774.5" y="372.8">750,00</text>
<text class="ax" x="774.5" y="343.8">800,00</text>
<text class="ax" x="774.5" y="314.8">850,00</text>
<text class="ax" x="774.5" y="285.8">900,00</text>
<text class="ax" x="774.5" y="256.8">950,00</text>
<text class="ax" x="774.5" y="226.8">1.000,00</text>
<text class="ax" x="774.5" y="197.8">1.050,00</text>
<text class="ax" x="774.5" y="168.8">1.100,00</text>
<text class="ax" x="774.5" y="139.8">1.150,00</text>
<text class="ax" x="774.5" y="110.8">1.200,00</text>
<text class="ax" x="774.5" y="81.8">1.250,00</text>
<text class="ax" x="774.5" y="52.8">1.300,00</text>
<text class="ax" x="774.5" y="23.1">1.350,00</text>
<text class="ax" x="774" y="470.3">80,00</text>
<text class="ax" x="774" y="502.8">60,00</text>
<text class="ax" x="774" y="533.8">40,00</text>
<text class="ax" x="774" y="564.8">20,00</text>
<text class="ax" x="774" y="596.8">0,00</text>
<text class="ax" x="774" y="627.8">-20,00</text>
<text class="ax" x="774" y="658.8">-40,00</text>
<rect x="770.5" y="40.5" width="46" height="13" fill="#fff" stroke="#1c1cb0" stroke-width="1" shape-rendering="crispEdges"/>
<text x="772.5" y="52.2" fill="#1c1cb0">1.306,45</text>
<rect x="770.5" y="33.5" width="44" height="11" fill="#fffef4" stroke="#f3e6c8" shape-rendering="crispEdges"/>
<rect x="770.5" y="30.5" width="40" height="14" fill="#fff" stroke="#3a9a2e" stroke-width="1" shape-rendering="crispEdges"/>
<text x="773" y="43" fill="#3a9a2e" textLength="35" lengthAdjust="spacingAndGlyphs">1.311,4</text>
<rect x="771" y="79" width="44" height="12" fill="#fff" stroke="#4fe6e6" stroke-width="2" shape-rendering="crispEdges"/>
<text x="771.5" y="89" fill="#4fe6e6" textLength="39.5" lengthAdjust="spacingAndGlyphs">1.242,90</text>
<rect x="770.5" y="121" width="46" height="12" fill="#fff" stroke="#1c1ca0" stroke-width="1" shape-rendering="crispEdges"/>
<text x="771.5" y="131" fill="#1c1ca0">1.170,296</text>
<rect x="770.4" y="525.8" width="41.6" height="9.4" fill="#fff"/>
<text x="772" y="534.3" fill="#000" textLength="38" lengthAdjust="spacingAndGlyphs">37,3242</text>
<rect x="770.9" y="535.5" width="41" height="11.5" fill="#fff" stroke="#d01010" stroke-width="1" shape-rendering="crispEdges"/>
<text x="772" y="544.6" fill="#d01010" textLength="38" lengthAdjust="spacingAndGlyphs">30,9691</text>
<rect x="771.2" y="574.7" width="29.3" height="11" fill="#fff" stroke="#22dc22" stroke-width="1.6" shape-rendering="crispEdges"/>
<text x="772.2" y="583.6" fill="#22dc22" textLength="26" lengthAdjust="spacingAndGlyphs">6,355</text>
</g>
<rect x="814" y="0" width="2" height="662" fill="#fe0000"/>
</svg></body></html>
